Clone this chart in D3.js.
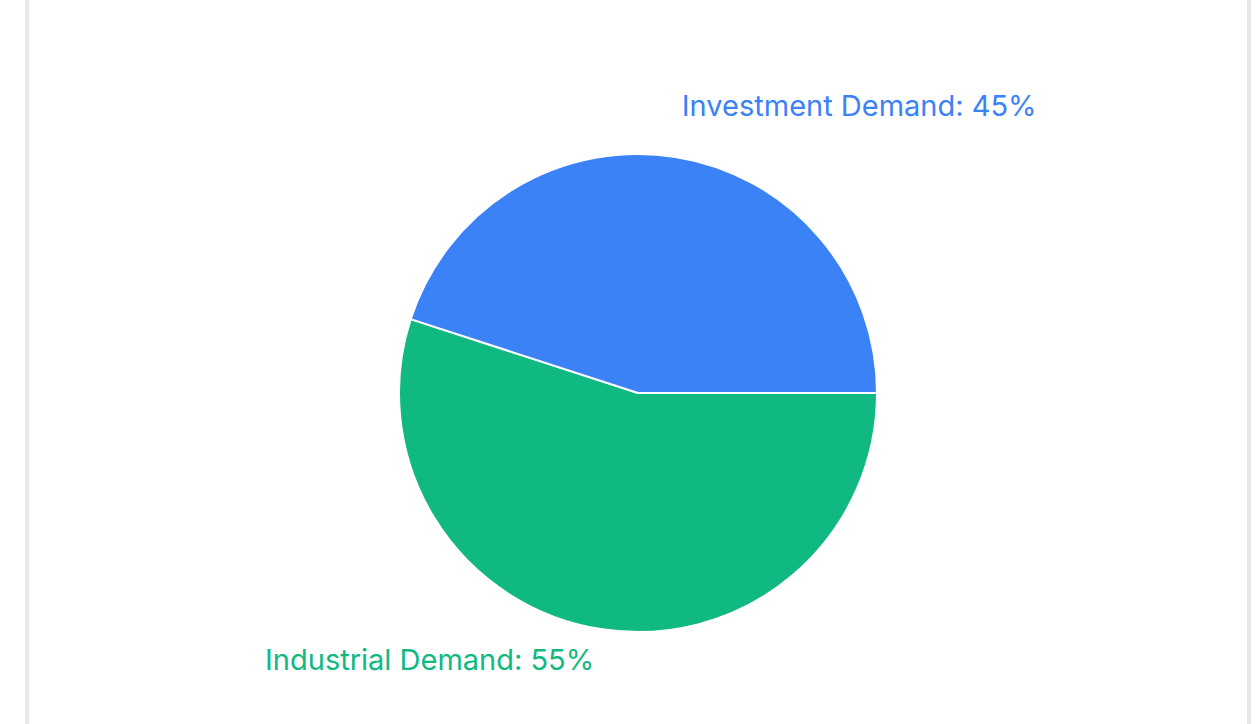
<!DOCTYPE html>
<html>
<head>
<meta charset="utf-8">
<script src="https://cdn.jsdelivr.net/npm/d3@7"></script>
<style>
  html, body { margin: 0; padding: 0; background: #fff; overflow: hidden; }
  #card {
    position: absolute; left: 25px; top: -10px; width: 1218px; height: 760px;
    border-left: 4px solid #e5e7eb; border-right: 4px solid #e5e7eb;
    background: #fff;
  }
  svg { position: absolute; left: 0; top: 0; }
</style>
</head>
<body>
<div id="card"></div>
<svg id="chart" width="1259" height="724"></svg>
<script>
// slice data, drawn clockwise from 3 o'clock
var categories = ["Industrial Demand", "Investment Demand"];
var shares = [55, 45];
var colors = ["#10b981", "#3b82f6"];

var svg = d3.select("#chart");
var cx = 638, cy = 393, radius = 239, labelRadius = 280;

var pie = d3.pie()
	.sort(null)
	.startAngle(Math.PI / 2)
	.endAngle(Math.PI / 2 + 2 * Math.PI)
	.value(function(d){ return d.value; });

var data = categories.map(function(c, i){ return {name: c, value: shares[i], color: colors[i]}; });
var arcs = pie(data);

var arc = d3.arc().innerRadius(0).outerRadius(radius);

var g = svg.append("g").attr("transform", "translate(" + cx + "," + cy + ")");

g.selectAll("path.slice")
	.data(arcs)
	.enter().append("path")
	.attr("class", "slice")
	.attr("d", arc)
	.style("fill", function(d){ return d.data.color; })
	.style("stroke", "#fff")
	.style("stroke-width", "2px");

g.selectAll("text.label")
	.data(arcs)
	.enter().append("text")
	.attr("class", "label")
	.attr("x", function(d){ var a = (d.startAngle + d.endAngle) / 2; return labelRadius * Math.sin(a); })
	.attr("y", function(d){ var a = (d.startAngle + d.endAngle) / 2; return -labelRadius * Math.cos(a); })
	.attr("text-anchor", function(d){ var a = (d.startAngle + d.endAngle) / 2; return Math.sin(a) >= 0 ? "start" : "end"; })
	.style("font-family", "Inter, 'Noto Sans', sans-serif")
	.style("font-size", "29px")
	.style("fill", function(d){ return d.data.color; })
	.text(function(d){ return d.data.name + ": " + d.data.value + "%"; });
</script>
</body>
</html>
